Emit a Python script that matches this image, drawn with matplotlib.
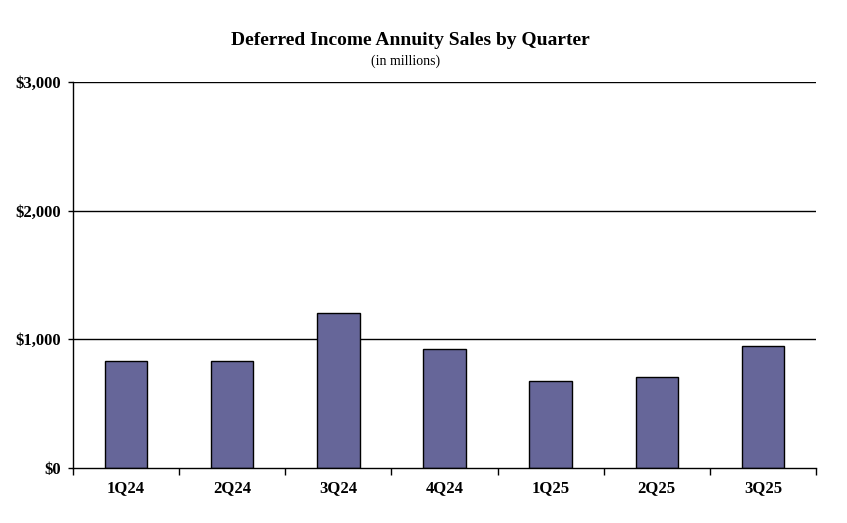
import numpy as np
import matplotlib.pyplot as plt

quarters = ['1Q24', '2Q24', '3Q24', '4Q24', '1Q25', '2Q25', '3Q25']
sales = [829, 829, 1202, 922, 674, 705, 946]
yticks = [0, 1000, 2000, 3000]
ytick_labels = ['$0', '$1,000', '$2,000', '$3,000']

plt.rcParams['font.family'] = ['Liberation Serif', 'DejaVu Serif']

fig = plt.figure(figsize=(8.47, 5.23), dpi=100)
ax = fig.add_axes([0.0862, 0.1052, 0.8772, 0.738])

x = np.arange(len(quarters))
ax.bar(x, sales, width=0.4, color='#666699', edgecolor='black', linewidth=1, zorder=3)

ax.set_xlim(-0.5, len(quarters) - 0.5)
ax.set_ylim(0, 3000)

# gridlines
for v in yticks[1:]:
    ax.axhline(v, color='black', linewidth=1, zorder=1)

ax.set_yticks(yticks)
ax.set_yticklabels(ytick_labels, fontsize=12, fontweight='bold')
ax.tick_params(axis='y', length=3.6, width=1, direction='out', pad=5)

# category boundaries as major ticks, labels on minor
ax.set_xticks(np.arange(-0.5, len(quarters), 1.0))
ax.set_xticklabels([])
ax.set_xticks(x, minor=True)
ax.set_xticklabels(quarters, minor=True, fontsize=12, fontweight='bold')
ax.tick_params(axis='x', which='major', length=5, width=1, direction='out')
ax.tick_params(axis='x', which='minor', length=0, pad=9)

for s in ['top', 'right']:
    ax.spines[s].set_visible(False)
for s in ['left', 'bottom']:
    ax.spines[s].set_linewidth(1)
    ax.spines[s].set_zorder(4)

fig.text(0.485, 0.9235, 'Deferred Income Annuity Sales by Quarter', ha='center', va='center',
         fontsize=14, fontweight='bold')
fig.text(0.479, 0.883, '(in millions)', ha='center', va='center', fontsize=10)

fig.savefig('out.png', dpi=100)
